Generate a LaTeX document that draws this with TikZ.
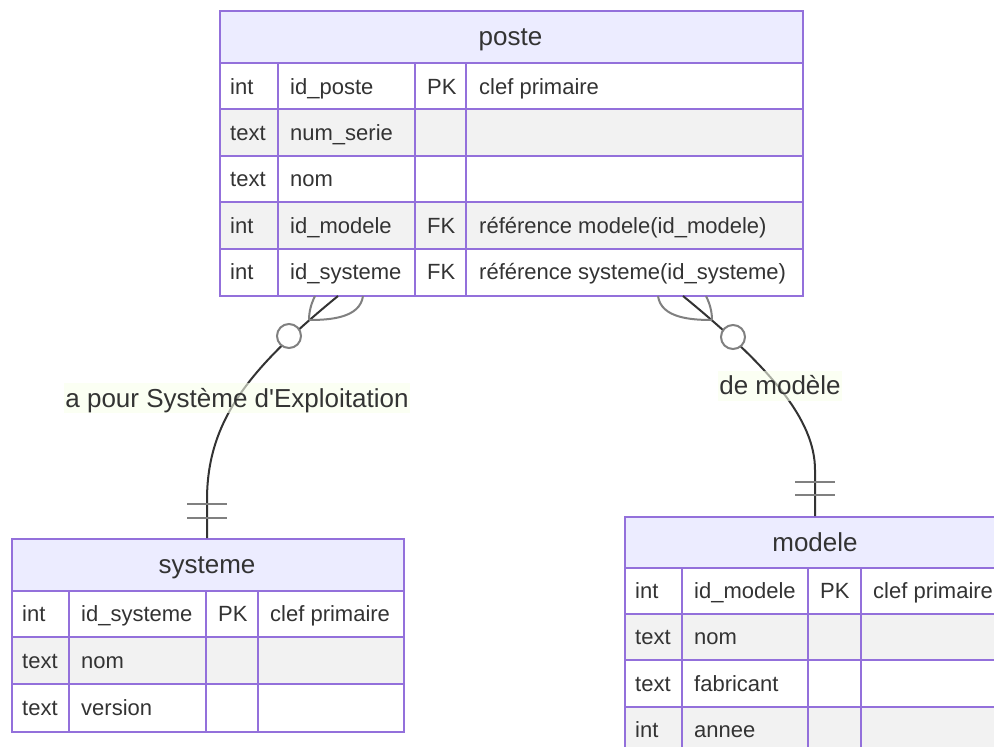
\documentclass[tikz,border=0pt]{standalone}
\usepackage{fontspec}
\setmainfont{Liberation Sans}
\definecolor{bord}{HTML}{9370DB}
\definecolor{hdr}{HTML}{ECECFF}
\definecolor{alt}{HTML}{F2F2F2}
\definecolor{txt}{HTML}{333333}
\definecolor{mk}{HTML}{808080}
\definecolor{lblbg}{RGB}{249,255,236}
\tikzset{
  cell/.style={anchor=base west, inner sep=0pt, text=txt, font=\fontsize{22}{26}\selectfont},
  head/.style={anchor=base, inner sep=0pt, text=txt, font=\fontsize{26}{30}\selectfont},
  grid/.style={draw=bord, line width=2pt},
  tbl/.style={draw=bord, line width=2pt, anchor=north west, inner sep=0pt},
  rel/.style={draw=txt, line width=2pt},
  mkline/.style={draw=mk, line width=2pt},
  zcirc/.style={circle, draw=mk, fill=white, line width=2pt, minimum size=24pt, inner sep=0pt},
  lbl/.style={fill=lblbg, fill opacity=0.6, text opacity=1, text=txt, inner xsep=1pt, inner ysep=0.5pt,
     text height=23.5pt, text depth=5.5pt, font=\fontsize{26}{30}\selectfont},
}
\begin{document}
\begin{tikzpicture}[x=1pt,y=-1pt]
\useasboundingbox (0,0) rectangle (994,747);
\fill[white] (0,0) rectangle (994,747);

% ---------- poste ----------
\fill[hdr] (219,10) rectangle (802,63);
\fill[white] (219,63) rectangle (802,109.4);
\fill[alt] (219,109.4) rectangle (802,155.8);
\fill[white] (219,155.8) rectangle (802,202.2);
\fill[alt] (219,202.2) rectangle (802,248.6);
\fill[white] (219,248.6) rectangle (802,295);
\foreach \y in {63,109.4,155.8,202.2,248.6} \draw[grid] (219,\y) -- (802,\y);
\foreach \x in {278,415,466} \draw[grid] (\x,63) -- (\x,295);
\node[tbl, minimum width=583pt, minimum height=285pt] (poste) at (219,10) {};
\node[head] (ph) at (510.5,45.5) {poste};
\node[cell] (p11) at (230,94) {int};
\node[cell] (p12) at (290,94) {id\_poste};
\node[cell] (p13) at (427,94) {PK};
\node[cell] (p14) at (479,94) {clef primaire};
\node[cell] (p21) at (230,140.4) {text};
\node[cell] (p22) at (290,140.4) {num\_serie};
\node[cell] (p31) at (230,186.8) {text};
\node[cell] (p32) at (290,186.8) {nom};
\node[cell] (p41) at (230,233.2) {int};
\node[cell] (p42) at (290,233.2) {id\_modele};
\node[cell] (p43) at (427,233.2) {FK};
\node[cell] (p44) at (479,233.2) {référence modele(id\_modele)};
\node[cell] (p51) at (230,279.6) {int};
\node[cell] (p52) at (290,279.6) {id\_systeme};
\node[cell] (p53) at (427,279.6) {FK};
\node[cell] (p54) at (479,279.6) {référence systeme(id\_systeme)};

% ---------- systeme ----------
\fill[hdr] (11,538) rectangle (403,591);
\fill[white] (11,591) rectangle (403,637);
\fill[alt] (11,637) rectangle (403,684);
\fill[white] (11,684) rectangle (403,731);
\foreach \y in {591,637,684} \draw[grid] (11,\y) -- (403,\y);
\foreach \x in {69,206,258} \draw[grid] (\x,591) -- (\x,731);
\node[tbl, minimum width=392pt, minimum height=193pt] (systeme) at (11,538) {};
\node[head] (sh) at (207,573.5) {systeme};
\node[cell] (s11) at (22,621.8) {int};
\node[cell] (s12) at (81,621.8) {id\_systeme};
\node[cell] (s13) at (218,621.8) {PK};
\node[cell] (s14) at (270,621.8) {clef primaire};
\node[cell] (s21) at (22,668.3) {text};
\node[cell] (s22) at (81,668.3) {nom};
\node[cell] (s31) at (22,715.3) {text};
\node[cell] (s32) at (81,715.3) {version};

% ---------- modele ----------
\fill[hdr] (624,516) rectangle (1006,568);
\fill[white] (624,568) rectangle (1006,614);
\fill[alt] (624,614) rectangle (1006,660);
\fill[white] (624,660) rectangle (1006,707);
\fill[alt] (624,707) rectangle (1006,753);
\foreach \y in {568,614,660,707} \draw[grid] (624,\y) -- (1006,\y);
\foreach \x in {682,808,861} \draw[grid] (\x,568) -- (\x,753);
\node[tbl, minimum width=382pt, minimum height=237pt] (modele) at (624,516) {};
\node[head] (mh) at (815,551) {modele};
\node[cell] (m11) at (635,598.8) {int};
\node[cell] (m12) at (694,598.8) {id\_modele};
\node[cell] (m13) at (820,598.8) {PK};
\node[cell] (m14) at (873,598.8) {clef primaire};
\node[cell] (m21) at (635,644.8) {text};
\node[cell] (m22) at (694,644.8) {nom};
\node[cell] (m31) at (635,691.3) {text};
\node[cell] (m32) at (694,691.3) {fabricant};
\node[cell] (m41) at (635,737.8) {int};
\node[cell] (m42) at (694,737.8) {annee};

% ---------- relations ----------
\coordinate (pS) at (338,296);
\coordinate (pM) at (683,296);
\coordinate (sN) at (207,538);
\coordinate (mN) at (815,516);
\coordinate (sA) at (207,500);
\coordinate (mA) at (815,470);

\draw[rel] (pS) .. controls (250,368) and (207,420) .. (sA) -- (sN);
\draw[rel] (pM) .. controls (771,368) and (815,420) .. (mA) -- (mN);

% crow's feet (zero or more) at poste
\coordinate (ls) at (309,320);
\draw[mkline] (315,296) .. controls (311,304) and (309,312) .. (ls);
\draw[mkline] (363,296) .. controls (360,318) and (330,320) .. (ls);
\node[zcirc] (c1) at (289,336) {};
\coordinate (rs) at (712,320);
\draw[mkline] (706,296) .. controls (710,304) and (712,312) .. (rs);
\draw[mkline] (658,296) .. controls (661,318) and (691,320) .. (rs);
\node[zcirc] (c2) at (733,337) {};

% exactly one bars
\draw[mkline] (187,504) -- (227,504);
\draw[mkline] (187,518) -- (227,518);
\draw[mkline] (795,482) -- (835,482);
\draw[mkline] (795,495) -- (835,495);

% labels
\node[lbl] (l1) at (237,398) {a pour Système d\textquotesingle Exploitation};
\node[lbl] (l2) at (780,385.5) {de modèle};
\end{tikzpicture}
\end{document}
